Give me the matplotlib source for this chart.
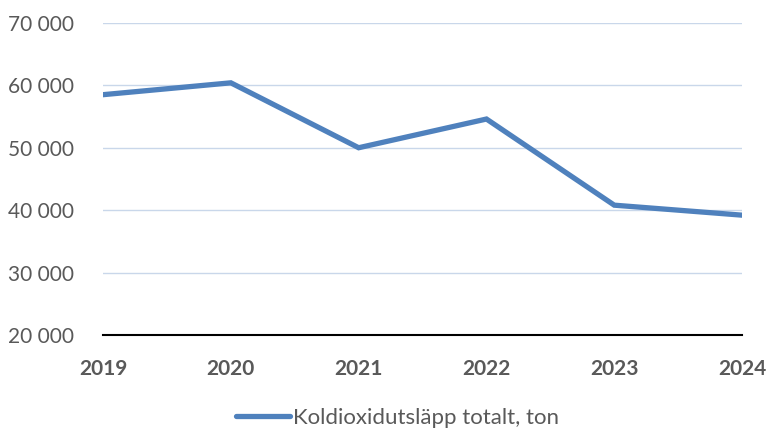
import matplotlib.pyplot as plt
from matplotlib.ticker import FuncFormatter

# CO2 emissions total, tonnes
years = ['2019', '2020', '2021', '2022', '2023', '2024']
emissions = [58500, 60400, 50000, 54600, 40800, 39200]
series_label = 'Koldioxidutsläpp totalt, ton'
y_ticks = [20000, 30000, 40000, 50000, 60000, 70000]

text_color = '#595959'
line_color = '#4F81BD'
grid_color = '#C9D7EA'

plt.rcParams['font.family'] = ['Lato', 'DejaVu Sans']

fig = plt.figure(figsize=(7.69, 4.32), dpi=100)
ax = fig.add_axes([0.134, 0.2245, 0.831, 0.7225])

x = list(range(len(years)))
ax.plot(x, emissions, color=line_color, linewidth=3.8, solid_joinstyle='miter',
        solid_capstyle='round', label=series_label)

ax.set_xlim(0, len(years) - 1)
ax.set_ylim(20000, 70000)
ax.set_yticks(y_ticks)
ax.yaxis.set_major_formatter(FuncFormatter(lambda v, p: f'{int(v):,}'.replace(',', ' ')))
ax.set_xticks(x)
ax.set_xticklabels(years, fontweight='bold')

ax.grid(axis='y', color=grid_color, linewidth=1.0)
ax.set_axisbelow(True)
for side in ['top', 'right', 'left']:
    ax.spines[side].set_visible(False)
ax.spines['bottom'].set_color('black')
ax.spines['bottom'].set_linewidth(1.5)
ax.spines['bottom'].set_zorder(3)

ax.tick_params(axis='both', length=0, labelsize=15, labelcolor=text_color)
ax.tick_params(axis='y', pad=21)
ax.tick_params(axis='x', pad=17)

fig.legend(loc='center', bbox_to_anchor=(0.517, 0.033), frameon=False, fontsize=16,
           labelcolor=text_color, handlelength=2.4, handletextpad=0.15)

fig.savefig('out.png', dpi=100)
